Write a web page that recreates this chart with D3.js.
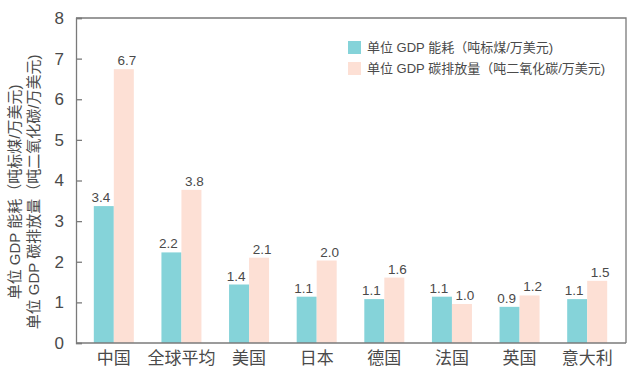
<!DOCTYPE html>
<html><head><meta charset="utf-8">
<script src="https://cdn.jsdelivr.net/npm/d3@7"></script>
<style>
html,body{margin:0;padding:0;background:#fff;}
svg{display:block;font-family:"Liberation Sans","Noto Sans CJK SC",sans-serif;}
</style></head>
<body>
<svg id="c" width="641" height="381"></svg>
<script>
const categories = ["中国","全球平均","美国","日本","德国","法国","英国","意大利"];
const energyValues = [3.37, 2.23, 1.44, 1.14, 1.08, 1.14, 0.89, 1.08];
const carbonValues = [6.74, 3.77, 2.10, 2.03, 1.61, 0.96, 1.17, 1.53];
const seriesNames = ["单位 GDP 能耗（吨标煤/万美元)", "单位 GDP 碳排放量（吨二氧化碳/万美元)"];
const seriesColors = ["#85d3d9", "#fde0d5"];
const yTicks = [0,1,2,3,4,5,6,7,8];
const yTitleLines = ["单位 GDP 能耗（吨标煤/万美元)", "单位 GDP 碳排放量（吨二氧化碳/万美元)"];

const svg = d3.select("#c");
const L = 76, R = 626, T = 18, B = 343;
const textColor = "#4a4a4a", axisColor = "#7a7a7a";

const y = d3.scaleLinear().domain([0, 8]).range([B, T]);
const x0 = d3.scaleBand().domain(categories).range([80, 621]).padding(0);
const barW = 20;

const data = categories.map((c, i) => ({cat: c, vals: [energyValues[i], carbonValues[i]]}));

// frame (top and right)
svg.append("path").attr("d", `M${L},${T}H${R}V${B}`).attr("fill","none").attr("stroke",axisColor).attr("stroke-width",1.3);

// bars
const g = svg.append("g");
data.forEach(d => {
  const c = x0(d.cat) + x0.bandwidth()/2;
  const x1 = d3.scaleBand().domain([0,1]).range([c - barW, c + barW]);
  d.vals.forEach((v, k) => {
    g.append("rect")
      .attr("x", x1(k)).attr("width", x1.bandwidth())
      .attr("y", y(v)).attr("height", y(0) - y(v))
      .attr("fill", seriesColors[k]);
    g.append("text")
      .attr("x", x1(k) + x1.bandwidth()/2 + (k === 0 ? -3 : 3))
      .attr("y", y(v) - 4)
      .attr("text-anchor","middle")
      .attr("font-size", 13.5).attr("fill", textColor)
      .text(v.toFixed(1));
  });
});

// y axis
const yAxis = d3.axisLeft(y).tickValues(yTicks).tickSize(-6).tickPadding(12).tickFormat(d3.format("d"));
const ya = svg.append("g").attr("transform", `translate(${L},0)`).call(yAxis);
ya.select(".domain").attr("stroke", axisColor).attr("stroke-width",1.3);
ya.selectAll(".tick line").attr("stroke", axisColor).attr("stroke-width",1.3);
ya.selectAll(".tick text").attr("font-size", 17).attr("fill", textColor).attr("font-family","Liberation Sans, sans-serif");

// x axis
const xAxis = d3.axisBottom(x0).tickSize(0).tickPadding(9);
const xa = svg.append("g").attr("transform", `translate(0,${B})`).call(xAxis);
xa.select(".domain").attr("d", `M${L},0H${R}`).attr("stroke", axisColor).attr("stroke-width",1.3);
xa.selectAll(".tick text").attr("font-size", 17).attr("fill", textColor).attr("font-family","Noto Sans CJK SC, sans-serif");

// y title
const titleX = [14, 33];
yTitleLines.forEach((t, i) => {
  svg.append("text")
    .attr("transform", `translate(${titleX[i]},192) rotate(-90)`)
    .attr("text-anchor","middle").attr("dominant-baseline","central")
    .attr("font-size", 15).attr("fill", textColor)
    .text(t);
});

// legend
const lg = svg.append("g").attr("transform","translate(348,41)");
seriesNames.forEach((s, i) => {
  lg.append("rect").attr("x",0).attr("y", i*21).attr("width",13).attr("height",13).attr("fill", seriesColors[i]);
  lg.append("text").attr("x",19).attr("y", i*21 + 6.5).attr("dominant-baseline","central")
    .attr("font-size",13).attr("fill",textColor).text(s);
});
</script>
</body></html>
